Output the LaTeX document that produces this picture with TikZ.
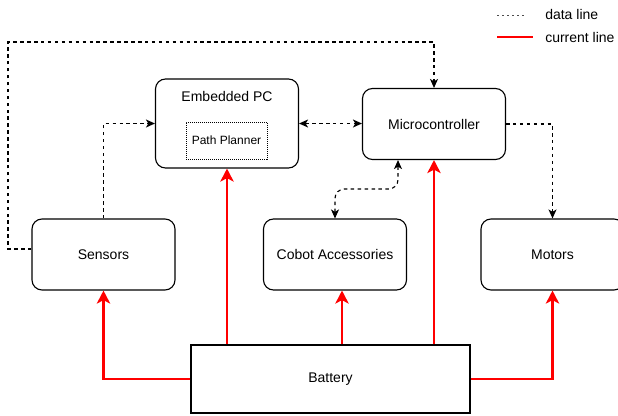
\documentclass[tikz,border=0pt]{standalone}
\usepackage{fontspec}
\setmainfont{Liberation Sans}
\usetikzlibrary{arrows.meta}
\begin{document}
\begin{tikzpicture}[x=0.75pt,y=-0.75pt,
  lbl/.style={font=\fontsize{10.5}{12}\selectfont,inner sep=0pt},
  box/.style={draw=black,line width=0.85pt,rounded corners=7.5pt,
    minimum width=107.25pt,minimum height=53.25pt,inner sep=0pt,
    font=\fontsize{10.5}{12}\selectfont},
  planbox/.style={draw=black,line width=0.75pt,dash pattern=on 0.75pt off 0.75pt,
    minimum width=60.75pt,minimum height=27.75pt,inner sep=0pt,
    font=\fontsize{9}{11}\selectfont},
  batbox/.style={draw=black,line width=0.85pt,
    minimum width=209.25pt,minimum height=51pt,inner sep=0pt,
    font=\fontsize{10.5}{12}\selectfont},
  dtip/.tip={Stealth[length=6.75pt,width=6pt,inset=1.8pt]},
  rtip/.tip={Stealth[length=9.75pt,width=10pt,inset=2.6pt]},
  dataline/.style={draw=black,line width=0.85pt,dash pattern=on 2.6pt off 2.6pt},
  powerline/.style={draw=red,line width=1.75pt,-rtip},
  legdash/.style={draw=black!70,line width=0.6pt,dash pattern=on 1.6pt off 2.2pt},
  legred/.style={draw=red,line width=0.8pt}
]
\useasboundingbox (0,0) rectangle (618,415);

% nodes
\node[box,minimum height=66.75pt] (epc) at (227,123.5) {};
\node[lbl] (epct) at (227,96) {Embedded PC};
\node[planbox] (pp) at (226.5,140.5) {Path Planner};
\node[box] (mc) at (434,124) {Microcontroller};
\node[box] (sen) at (103.5,254.5) {Sensors};
\node[box] (cob) at (335,254.5) {Cobot Accessories};
\node[box] (mot) at (552.5,254.5) {Motors};
\node[batbox] (bat) at (330.5,379) {Battery};

% data lines
\coordinate (lt) at (8,42);
\draw[dataline,-dtip] ([yshift=4.1pt]sen.west) -| (lt) -| (mc.north);
\draw[dataline,-dtip] (sen.north) |- (epc.west);
\draw[dataline,dtip-dtip] (epc.east) -- (epc.east -| mc.west);
\coordinate (cm) at (366,189);
\draw[dataline,dtip-dtip,rounded corners=7pt] ([xshift=-27pt]mc.south) |- (cm) -| (cob.north);
\draw[dataline,-dtip] (mc.east) -| (mot.north);

% current lines
\draw[powerline] (bat.west) -| (sen.south);
\draw[powerline] (bat.north -| epc.south) -- (epc.south);
\draw[powerline] ([xshift=5.25pt]bat.north -| cob.south) -- ([xshift=5.25pt]cob.south);
\draw[powerline] (bat.north -| mc.south) -- (mc.south);
\draw[powerline] (bat.east) -| (mot.south);

% legend
\coordinate (l1a) at (497,15);
\coordinate (l1b) at (524,15);
\draw[legdash] (l1a) -- (l1b);
\node[lbl,anchor=west] (l1t) at (545,14) {data line};
\coordinate (l2a) at (497,37);
\coordinate (l2b) at (533,37);
\draw[legred] (l2a) -- (l2b);
\node[lbl,anchor=west] (l2t) at (545,37) {current line};
\end{tikzpicture}
\end{document}
